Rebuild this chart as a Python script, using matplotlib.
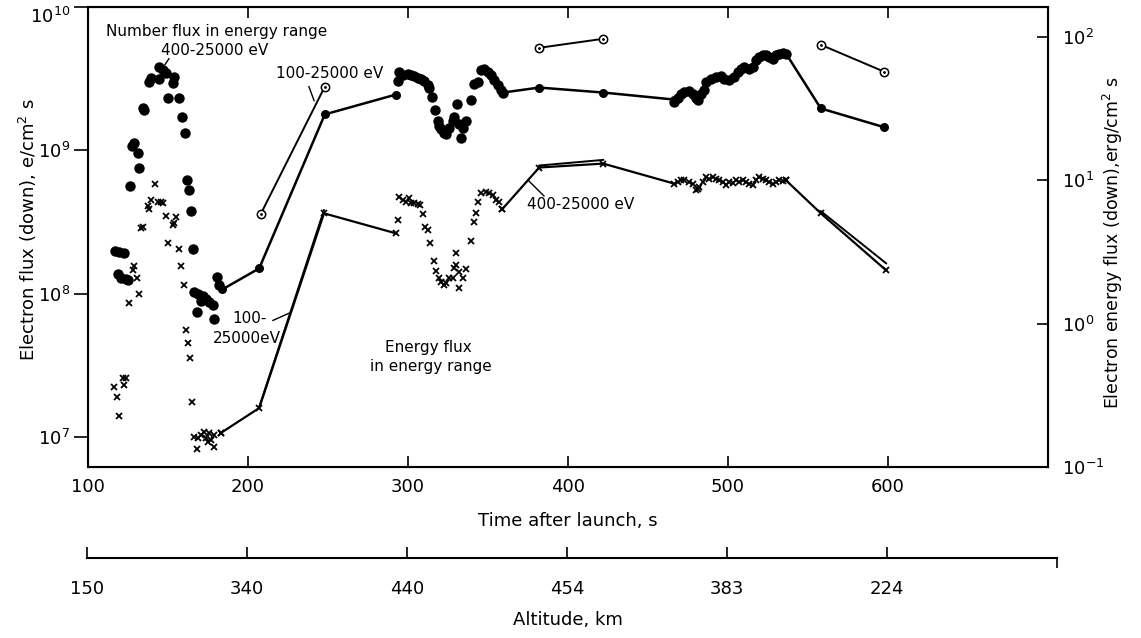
import numpy as np
import matplotlib
matplotlib.use('Agg')
import matplotlib.pyplot as plt

# number flux, 400-25000 eV (filled dots), e/cm2 s
nf_t = [144.4, 146.9, 148.8, 139.4, 138.1, 144.4, 153.8, 153.1, 150.0, 156.9,
        134.4, 135.0, 158.8, 160.6, 128.8, 127.5, 131.3, 131.9, 126.3, 161.9,
        163.1, 164.4, 165.6, 116.9, 119.4, 122.5, 118.8, 120.6, 123.8, 125.0,
        180.6, 181.9, 166.3, 168.8, 171.9, 173.8, 175.6, 178.1, 168.1, 178.8, 170.6,
        294.4, 293.8, 296.9, 300.0, 301.9, 303.8, 306.3, 308.1, 310.0, 312.5,
        313.1, 315.0, 316.9, 318.8, 319.4, 320.6, 322.5, 323.8, 325.6, 328.1,
        328.8, 330.6, 331.9, 334.4, 336.3, 333.1, 339.4, 341.3, 343.8, 345.6,
        347.5, 350.0, 351.9, 353.8, 356.3, 358.1, 359.4,
        466.3, 468.8, 470.6, 472.5, 475.6, 478.1, 480.0, 481.3, 483.1, 485.0,
        486.3, 489.4, 492.5, 495.6, 497.5, 500.6, 503.8, 506.3, 508.1, 510.0,
        513.1, 515.6, 517.5, 519.4, 521.9, 523.8, 525.6, 528.1, 530.0, 531.9,
        534.4, 536.3]
nf_v = [3.83e9, 3.65e9, 3.48e9, 3.21e9, 3.01e9, 3.16e9, 3.26e9, 2.97e9, 2.30e9, 2.30e9,
        1.96e9, 1.90e9, 1.72e9, 1.31e9, 1.12e9, 1.08e9, 9.5e8, 7.5e8, 5.6e8, 6.2e8,
        5.3e8, 3.8e8, 2.05e8, 1.99e8, 1.96e8, 1.93e8, 1.38e8, 1.29e8, 1.27e8, 1.25e8,
        1.31e8, 1.14e8, 1.02e8, 1.0e8, 9.7e7, 9.2e7, 8.7e7, 8.3e7, 7.5e7, 6.6e7, 8.9e7,
        3.54e9, 3.06e9, 3.37e9, 3.43e9, 3.37e9, 3.32e9, 3.21e9, 3.16e9, 3.06e9, 2.87e9,
        2.70e9, 2.37e9, 1.90e9, 1.61e9, 1.47e9, 1.40e9, 1.31e9, 1.29e9, 1.42e9, 1.59e9,
        1.72e9, 2.09e9, 1.52e9, 1.42e9, 1.59e9, 1.21e9, 2.26e9, 2.92e9, 3.01e9, 3.65e9,
        3.71e9, 3.54e9, 3.37e9, 3.11e9, 2.87e9, 2.65e9, 2.53e9,
        2.19e9, 2.30e9, 2.49e9, 2.57e9, 2.61e9, 2.49e9, 2.30e9, 2.26e9, 2.49e9, 2.65e9,
        3.01e9, 3.16e9, 3.26e9, 3.32e9, 3.16e9, 3.11e9, 3.26e9, 3.54e9, 3.71e9, 3.83e9,
        3.71e9, 3.83e9, 4.28e9, 4.50e9, 4.64e9, 4.64e9, 4.50e9, 4.35e9, 4.64e9, 4.72e9,
        4.80e9, 4.72e9]

# connected parts of the 400-25000 eV number flux
nf_seg1_t = [184.0, 207.0, 248.0, 292.5]
nf_seg1_v = [1.07e8, 1.5e8, 1.78e9, 2.45e9]
nf_seg2_t = [359.4, 382.0, 422.0, 466.3]
nf_seg2_v = [2.53e9, 2.74e9, 2.53e9, 2.26e9]
nf_seg3_t = [536.3, 558.0, 597.5]
nf_seg3_v = [4.72e9, 1.96e9, 1.45e9]

# number flux 100-25000 eV (open circles), pairs
nf100_t = [[208.0, 248.0], [382.0, 422.0], [558.0, 597.5]]
nf100_v = [[3.6e8, 2.78e9], [5.19e9, 6.0e9], [5.45e9, 3.54e9]]

# energy flux (crosses), erg/cm2 s
ef_t = [141.9, 139.4, 137.5, 138.1, 143.8, 145.6, 146.9, 148.8, 155.0, 153.1,
        153.8, 134.4, 133.1, 150.0, 156.9, 158.1, 128.8, 128.1, 130.6, 160.0,
        131.9, 125.6, 161.3, 162.5, 163.8, 121.9, 123.8, 122.5, 116.3, 118.1,
        119.4, 165.0, 166.3, 168.8, 170.6, 172.5, 173.8, 175.6, 176.9, 175.0,
        178.8, 168.1, 178.8, 183.1,
        294.4, 296.9, 298.8, 300.6, 301.9, 303.8, 306.3, 307.5, 293.8, 309.4,
        310.6, 312.5, 313.8, 316.3, 317.5, 319.4, 320.6, 322.5, 323.8, 325.6,
        328.1, 328.8, 330.0, 331.9, 334.4, 336.3, 331.9, 330.0, 339.4, 341.3,
        342.5, 343.8, 345.6, 348.8, 350.6, 353.1, 355.0, 356.9, 358.8,
        468.5, 470.6, 472.7, 475.8, 477.9, 480.0, 481.0, 482.1, 484.2, 486.3,
        488.3, 490.4, 492.5, 494.6, 496.7, 498.8, 500.8, 502.9, 505.0, 507.1,
        509.2, 511.3, 513.3, 515.4, 517.5, 519.6, 521.7, 523.8, 525.8, 527.9,
        530.0, 532.1, 534.2, 536.3]
ef_v = [9.5, 7.26, 6.59, 6.28, 7.03, 7.03, 6.92, 5.61, 5.52, 4.85,
        5.01, 4.70, 4.63, 3.64, 3.30, 2.52, 2.52, 2.36, 2.08, 1.85,
        1.61, 1.39, 0.90, 0.73, 0.575, 0.417, 0.417, 0.372, 0.361, 0.307,
        0.227, 0.284, 0.162, 0.159, 0.167, 0.175, 0.159, 0.173, 0.154, 0.149,
        0.138, 0.133, 0.167, 0.173,
        7.62, 7.26, 7.03, 7.50, 6.92, 6.92, 6.81, 6.70, 5.26, 5.79,
        4.70, 4.48, 3.64, 2.73, 2.32, 2.08, 1.95, 1.85, 1.91, 2.08,
        2.08, 2.44, 2.56, 2.28, 2.08, 2.40, 1.77, 3.10, 3.76, 5.09,
        5.89, 7.03, 8.11, 8.24, 8.11, 7.85, 7.26, 7.03, 6.28,
        9.73, 10.0, 10.1, 9.73, 9.49, 8.51, 8.75, 8.98, 9.73, 10.5,
        10.3, 10.5, 10.3, 10.0, 9.73, 9.22, 9.73, 9.57, 10.0, 9.73,
        10.0, 9.73, 9.49, 9.22, 10.0, 10.5, 10.3, 10.0, 9.73, 9.49,
        9.73, 10.0, 9.95, 10.0]

# energy flux lines: 400-25000 eV and 100-25000 eV
ef400_segs_t = [[183.1, 207.0, 247.5, 292.5], [358.8, 382.0, 422.0, 466.3], [536.3, 558.0, 598.8]]
ef400_segs_v = [[0.173, 0.258, 5.89, 4.27], [6.28, 12.3, 13.1, 9.5], [10.0, 5.89, 2.36]]
ef100_segs_t = [[207.0, 247.5], [382.0, 422.0], [558.0, 598.8]]
ef100_segs_v = [[0.262, 6.2], [12.7, 13.9], [6.1, 2.64]]

time_ticks = [100, 200, 300, 400, 500, 600]
alt_labels = ['150', '340', '440', '454', '383', '224']

W, H = 1141, 638
fig = plt.figure(figsize=(W / 100, H / 100), dpi=100)
ax = fig.add_axes([88 / W, 1 - 467 / H, (1048 - 88) / W, (467 - 7) / H])
ax2 = ax.twinx()

ax.set_yscale('log')
ax.set_xlim(100, 700)
ax.set_ylim(10 ** 6.79, 1e10)
ax2.set_yscale('log')
ax2.set_ylim(0.1, 10 ** 2.21)

# number flux
ax.plot(nf_t, nf_v, 'o', color='black', ms=7.5, mew=0)
for tt, vv in [(nf_seg1_t, nf_seg1_v), (nf_seg2_t, nf_seg2_v), (nf_seg3_t, nf_seg3_v)]:
    ax.plot(tt, vv, '-', color='black', lw=1.8, marker='o', ms=6.5, mew=0)
for tt, vv in zip(nf100_t, nf100_v):
    ax.plot(tt, vv, '-', color='black', lw=1.4)
    ax.plot(tt, vv, 'o', mfc='white', mec='black', ms=6, mew=1.1)
    ax.plot(tt, vv, '.', color='black', ms=2)

# energy flux
ax2.plot(ef_t, ef_v, 'x', color='black', ms=4, mew=1.3)
for tt, vv in zip(ef400_segs_t, ef400_segs_v):
    ax2.plot(tt, vv, '-', color='black', lw=1.6, marker='x', ms=4, mew=1.3)
for tt, vv in zip(ef100_segs_t, ef100_segs_v):
    ax2.plot(tt, vv, '-', color='black', lw=1.4)

# annotations
ax.text(111, 6.7e9, 'Number flux in energy range', fontsize=11, ha='left', va='center')
ax.text(179, 5.0e9, '400-25000 eV', fontsize=11, ha='center', va='center')
ax.plot([150.6, 148.1], [4.36e9, 3.96e9], color='black', lw=1)
ax.text(251, 3.43e9, '100-25000 eV', fontsize=11, ha='center', va='center')
ax.plot([238.1, 241.3], [2.78e9, 2.22e9], color='black', lw=1)
ax.text(201, 6.7e7, '100-', fontsize=11, ha='center', va='center')
ax.text(199, 4.87e7, '25000eV', fontsize=11, ha='center', va='center')
ax.plot([215.6, 226.9], [6.5e7, 7.4e7], color='black', lw=1)
ax.text(313, 4.2e7, 'Energy flux', fontsize=11, ha='center', va='center')
ax.text(314, 3.1e7, 'in energy range', fontsize=11, ha='center', va='center')
ax.text(408, 4.2e8, '400-25000 eV', fontsize=11, ha='center', va='center')
ax.plot([375.6, 385.0], [6.1e8, 4.8e8], color='black', lw=1)

# ticks
ax.set_xticks(time_ticks)
ax.set_xticklabels([str(t) for t in time_ticks])
ax.tick_params(axis='x', which='both', direction='in', top=True, length=8, width=1.2,
               labelsize=13, pad=8)
ax.set_yticks([1e7, 1e8, 1e9, 1e10])
ax.yaxis.set_minor_locator(matplotlib.ticker.NullLocator())
ax.tick_params(axis='y', which='major', direction='out', length=10, width=1.2, labelsize=13, pad=3)
ax.yaxis.get_major_ticks()[-1].label1.set_va('top')
ax2.set_yticks([0.1, 1, 10, 100])
ax2.yaxis.set_minor_locator(matplotlib.ticker.NullLocator())
ax2.tick_params(axis='y', which='major', direction='in', length=8, width=1.2, labelsize=13, pad=10)
for sp in ax.spines.values():
    sp.set_linewidth(1.5)

fig.text(28 / W, 1 - 230 / H, 'Electron flux (down), e/cm$^2$ s', rotation=90,
         ha='center', va='center', fontsize=13)
fig.text(1113 / W, 1 - 243 / H, 'Electron energy flux (down),erg/cm$^2$ s', rotation=90,
         ha='center', va='center', fontsize=12.5)
fig.text(568 / W, 1 - 521 / H, 'Time after launch, s', ha='center', va='center', fontsize=13)

# altitude axis
axa = fig.add_axes([87 / W, 1 - 558 / H, (1057 - 87) / W, 0.01])
axa.set_xlim(100, 100 + (1057 - 87) / 1.6)
for s in ['left', 'right', 'top']:
    axa.spines[s].set_visible(False)
axa.spines['bottom'].set_linewidth(1.5)
axa.set_yticks([])
axa.patch.set_visible(False)
axa.set_xticks(time_ticks)
axa.set_xticklabels(alt_labels)
axa.set_xticks([100, 100 + (1057 - 87) / 1.6], minor=True)
axa.tick_params(axis='x', which='major', direction='in', length=8, width=1.2, labelsize=13, pad=16)
axa.tick_params(axis='x', which='minor', direction='out', length=7, width=1.2)
fig.text(568 / W, 1 - 620 / H, 'Altitude, km', ha='center', va='center', fontsize=13)

plt.savefig('out.png', dpi=100)
